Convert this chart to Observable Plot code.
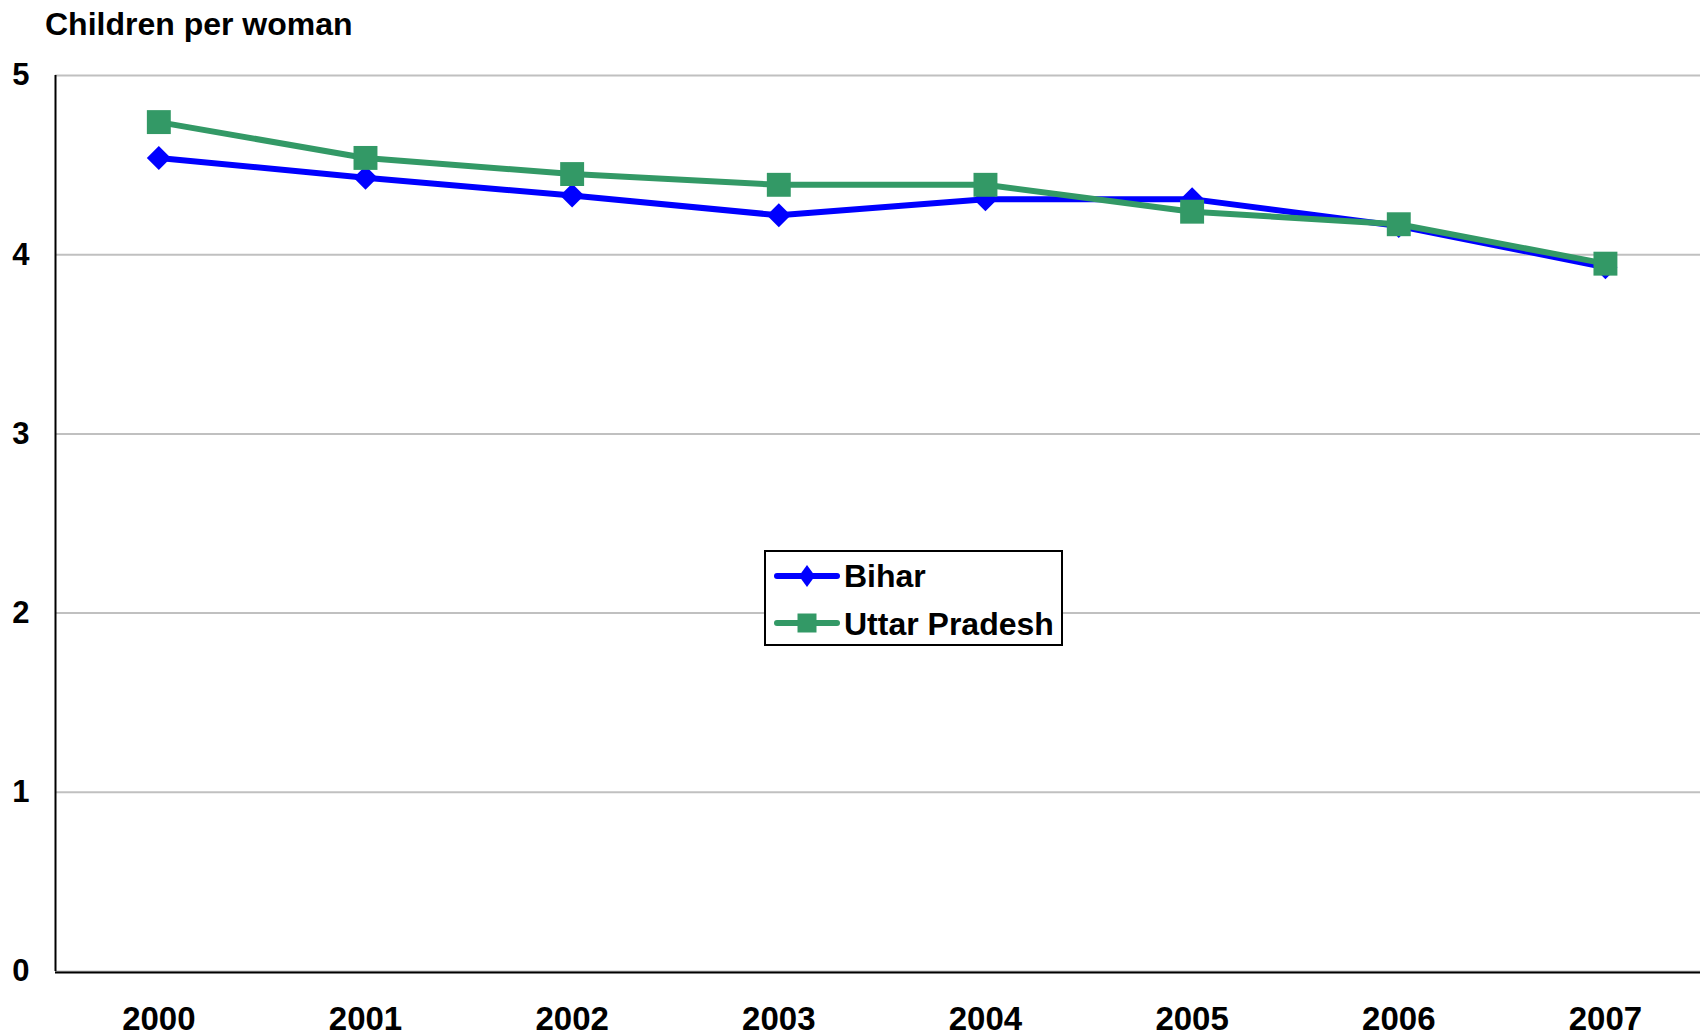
<!DOCTYPE html>
<html><head><meta charset="utf-8">
<script src="https://cdn.jsdelivr.net/npm/d3@7"></script>
<script src="https://cdn.jsdelivr.net/npm/@observablehq/plot@0.6"></script>
<style>
html,body{margin:0;padding:0;background:#fff;}
body{width:1700px;height:1035px;position:relative;overflow:hidden;font-family:"Liberation Sans",Arial,sans-serif;font-weight:bold;color:#000;}
#title{position:absolute;left:45px;top:8px;font-size:32px;line-height:32px;white-space:nowrap;}
#chart{position:absolute;left:0;top:0;}
#legend{position:absolute;left:764px;top:550px;width:299px;height:96px;box-sizing:border-box;border:2px solid #000;background:#fff;}
.sw{position:absolute;left:8px;}
.lt{position:absolute;left:78px;font-size:32px;line-height:32px;white-space:nowrap;}
</style>
</head>
<body>
<div id="chart"></div>
<div id="title">Children per woman</div>
<div id="legend"></div>
<script>
const years = [2000, 2001, 2002, 2003, 2004, 2005, 2006, 2007];
const bihar = [4.54, 4.43, 4.33, 4.22, 4.31, 4.31, 4.16, 3.93];
const uttarPradesh = [4.74, 4.54, 4.45, 4.39, 4.39, 4.24, 4.17, 3.95];
const seriesNames = ["Bihar", "Uttar Pradesh"];
const seriesColors = ["#0000ff", "#339966"];
const yTicks = [0, 1, 2, 3, 4, 5];

const biharData = years.map((year, i) => ({year, series: seriesNames[0], value: bihar[i]}));
const upData = years.map((year, i) => ({year, series: seriesNames[1], value: uttarPradesh[i]}));

const chart = Plot.plot({
  width: 1700,
  height: 1035,
  marginTop: 75,
  marginBottom: 64,
  marginLeft: 55,
  marginRight: 0,
  style: {fontFamily: '"Liberation Sans", Arial, sans-serif', fontWeight: "bold", fontSize: "32px", color: "#000", background: "#fff", overflow: "visible"},
  x: {domain: [1999.5, 2007.46], label: null},
  y: {domain: [0, 5], label: null},
  marks: [
    Plot.ruleY(yTicks, {stroke: "#c0c0c0", strokeWidth: 2}),
    Plot.ruleY([0], {stroke: "#000", strokeWidth: 2, dy: 1}),
    Plot.ruleX([1999.5], {stroke: "#000", strokeWidth: 2}),
    Plot.axisX({ticks: years, tickFormat: "d", tickSize: 0, tickPadding: 35, fontSize: 33, fontWeight: "bold", label: null}),
    Plot.axisY({ticks: yTicks, tickFormat: "d", tickSize: 0, tickPadding: 26, fontSize: 31, fontWeight: "bold", label: null}),
    Plot.line(biharData, {x: "year", y: "value", stroke: seriesColors[0], strokeWidth: 6, strokeLinejoin: "round"}),
    Plot.dot(biharData, {x: "year", y: "value", symbol: "diamond2", r: 10.8, fill: seriesColors[0], stroke: "none"}),
    Plot.line(upData, {x: "year", y: "value", stroke: seriesColors[1], strokeWidth: 6, strokeLinejoin: "round"}),
    Plot.dot(upData, {x: "year", y: "value", symbol: "square", r: 13.5, fill: seriesColors[1], stroke: "none"})
  ]
});
document.getElementById("chart").appendChild(chart);

// legend
const legend = document.getElementById("legend");
const rows = [
  {name: seriesNames[0], color: seriesColors[0], marker: "diamond", swTop: 9, txtTop: 8},
  {name: seriesNames[1], color: seriesColors[1], marker: "square", swTop: 56, txtTop: 56}
];
rows.forEach(r => {
  const ns = "http://www.w3.org/2000/svg";
  const svg = document.createElementNS(ns, "svg");
  svg.setAttribute("class", "sw");
  svg.setAttribute("width", 66);
  svg.setAttribute("height", 30);
  svg.style.top = r.swTop + "px";
  const ln = document.createElementNS(ns, "line");
  ln.setAttribute("x1", 3); ln.setAttribute("x2", 63);
  ln.setAttribute("y1", 15); ln.setAttribute("y2", 15);
  ln.setAttribute("stroke", r.color); ln.setAttribute("stroke-width", 6);
  ln.setAttribute("stroke-linecap", "round");
  svg.appendChild(ln);
  const mk = document.createElementNS(ns, "path");
  if (r.marker === "diamond") mk.setAttribute("d", "M33,4L41,15L33,26L25,15Z");
  else mk.setAttribute("d", "M23.5,5.5H42.5V24.5H23.5Z");
  mk.setAttribute("fill", r.color);
  svg.appendChild(mk);
  legend.appendChild(svg);
  const t = document.createElement("div");
  t.className = "lt";
  t.style.top = r.txtTop + "px";
  t.textContent = r.name;
  legend.appendChild(t);
});
</script>
</body></html>
